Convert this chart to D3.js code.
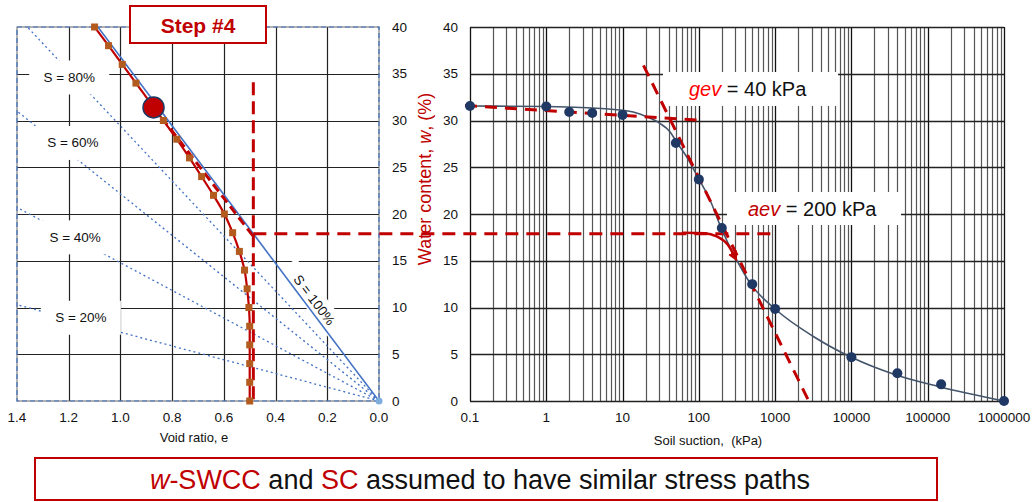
<!DOCTYPE html>
<html>
<head>
<meta charset="utf-8">
<script src="https://cdn.jsdelivr.net/npm/d3@7"></script>
<style>
html,body{margin:0;padding:0;background:#fff;}
svg{display:block;font-family:"Liberation Sans",Arial,sans-serif;}
</style>
</head>
<body>
<svg id="chart" width="1035" height="502"></svg>
<script>
// ---------------- DATA ----------------
// Left chart: shrinkage curve (void ratio e vs water content w)
const scW = [40,38,36,34,32,30,28,26,24,22,20,18,16,14,12,10,8,6,4,2,0];
const scE = [1.10,1.046,0.993,0.940,0.887,0.834,0.782,0.733,0.686,0.640,0.598,0.566,0.540,0.520,0.510,0.503,0.500,0.500,0.500,0.500,0.500];
// saturation lines: endpoints (origin -> far end)
const satLabels = ["S = 100%","S = 80%","S = 60%","S = 40%","S = 20%"];
const satEndE = [1.087, 1.36, 1.40, 1.40, 1.40];
const satEndW = [40, 40, 31.0, 20.7, 10.3];
// label positions for dotted S lines (e, w)
const satLabelE = [null, 1.198, 1.184, 1.175, 1.153];
const satLabelW = [null, 34.6, 27.6, 17.5, 8.9];
// current state point (big red circle)
const statePoint = {e:0.872, w:31.4};
// bilinear SC approximation (dashed)
const scSlopeE = [0.840, 0.486];
const scSlopeW = [30.3, 17.6];
const scVertE = [0.486, 0.486];
const scVertW = [34.1, 0];
const crossW = 17.9;     // horizontal dashed link between charts
const crossEndSuction = 1000;
const voidTicks = [1.4,1.2,1.0,0.8,0.6,0.4,0.2,0.0];
const wTicks = [0,5,10,15,20,25,30,35,40];

// Right chart: w-SWCC
const swccS = [0.1,1,2,4,10,50,100,200,500,1000,10000,40000,150000,1000000];
const swccW = [31.55,31.5,30.9,30.8,30.6,27.6,23.7,18.5,12.5,9.85,4.67,2.96,1.78,0];
const fitS = [0.1,1,10,13.8,20.8,30.7,41.8,51,69.5,99,140,196,312,480,1000,3170,10000,38500,142000,1000000];
const fitW = [31.55,31.5,31.1,30.9,30.4,29.7,28.8,27.7,26.1,23.8,21.5,18.5,15.1,12.5,9.84,6.9,4.67,2.78,1.53,0];
const gevLineS = [0.1,112];
const gevLineW = [31.6,30.0];
const steepS = [18.8,2760];
const steepW = [35.9,0];
const aevS = [60,120,171,240,296];
const aevW = [18.0,17.95,17.6,16.7,15.4];
const suctionTicks = [0.1,1,10,100,1000,10000,100000,1000000];
const suctionTickLabels = ["0.1","1","10","100","1000","10000","100000","1000000"];

// ---------------- DRAW ----------------
const svg = d3.select("#chart");
const RED = "#C00000", BLUE = "#4472C4", NAVY = "#1F3864";

const xL = d3.scaleLinear().domain([1.4,0]).range([17,379]);
const yL = d3.scaleLinear().domain([0,40]).range([401,27]);
const xR = d3.scaleLog().domain([0.1,1e6]).range([470,1004]);
const yR = d3.scaleLinear().domain([0,40]).range([401,27]);

const defs = svg.append("defs");
defs.append("clipPath").attr("id","clipL").append("rect")
  .attr("x",17).attr("y",27).attr("width",362).attr("height",374);
defs.append("clipPath").attr("id","clipR").append("rect")
  .attr("x",455).attr("y",27).attr("width",549).attr("height",378);
defs.append("marker").attr("id","arrow").attr("viewBox","0 0 10 10")
  .attr("refX",5).attr("refY",5).attr("markerWidth",4).attr("markerHeight",4)
  .attr("orient","auto").append("path").attr("d","M0,0 L10,5 L0,10 z").attr("fill",RED);

// ---- left grid ----
const gL = svg.append("g");
gL.selectAll(".vg").data(voidTicks.slice(1,-1)).enter().append("line")
  .attr("x1",d=>Math.round(xL(d))+0.5).attr("x2",d=>Math.round(xL(d))+0.5)
  .attr("y1",yL(40)).attr("y2",yL(0)).attr("stroke","#222").attr("stroke-width",1.2);
gL.selectAll(".hg").data(wTicks.slice(1,-1)).enter().append("line")
  .attr("x1",xL(1.4)).attr("x2",xL(0))
  .attr("y1",d=>Math.round(yL(d))+0.5).attr("y2",d=>Math.round(yL(d))+0.5)
  .attr("stroke","#222").attr("stroke-width",1.2);
// frame
gL.append("rect").attr("x",xL(1.4)).attr("y",yL(40)).attr("width",xL(0)-xL(1.4)).attr("height",yL(0)-yL(40))
  .attr("fill","none").attr("stroke","#666").attr("stroke-width",1);
gL.append("rect").attr("x",xL(1.4)).attr("y",yL(40)).attr("width",xL(0)-xL(1.4)).attr("height",yL(0)-yL(40))
  .attr("fill","none").attr("stroke",BLUE).attr("stroke-width",1.2).attr("stroke-dasharray","5,3");

// S=100% label box (drawn under lines)
const s100pos = {x:314, y:300};
const s100g = svg.append("g").attr("transform",`translate(${s100pos.x},${s100pos.y}) rotate(53)`);
s100g.append("rect").attr("x",-44).attr("y",-11).attr("width",88).attr("height",22).attr("fill","#fff");

// dotted saturation lines S<100
const clipL = svg.append("g").attr("clip-path","url(#clipL)");
clipL.selectAll(".sat").data(d3.range(1,5)).enter().append("line")
  .attr("x1",xL(0)).attr("y1",yL(0))
  .attr("x2",i=>xL(satEndE[i])).attr("y2",i=>yL(satEndW[i]))
  .attr("stroke",BLUE).attr("stroke-width",1.3).attr("stroke-dasharray","2,3");

// S labels with white boxes
d3.range(1,5).forEach(i=>{
  const cx = xL(satLabelE[i]), cy = yL(satLabelW[i]);
  svg.append("rect").attr("x",cx-40).attr("y",cy-17).attr("width",80).attr("height",34).attr("fill","#fff");
  svg.append("text").attr("x",cx).attr("y",cy).attr("text-anchor","middle").attr("dominant-baseline","central")
    .attr("font-size",13.5).attr("fill","#111").text(satLabels[i]);
});

// S=100% line
clipL.append("line").attr("x1",xL(0)).attr("y1",yL(0)).attr("x2",xL(satEndE[0])).attr("y2",yL(satEndW[0]))
  .attr("stroke",BLUE).attr("stroke-width",1.6);
s100g.append("text").attr("x",0).attr("y",0).attr("text-anchor","middle").attr("dominant-baseline","central")
  .attr("font-size",13.5).attr("fill","#111").text(satLabels[0]);
svg.append("circle").attr("cx",xL(0)).attr("cy",yL(0)).attr("r",3.5).attr("fill","#7FAEDC");

// red dashed bilinear lines (left)
const dashStyle = sel => sel.attr("fill","none").attr("stroke",RED).attr("stroke-width",3).attr("stroke-dasharray","12,8");
clipL.append("line").attr("x1",xL(scSlopeE[0])).attr("y1",yL(scSlopeW[0])).attr("x2",xL(scSlopeE[1])).attr("y2",yL(scSlopeW[1]))
  .call(dashStyle).attr("stroke-dasharray","9,5");
svg.append("line").attr("x1",xL(scVertE[0])).attr("y1",yL(scVertW[0])).attr("x2",xL(scVertE[1])).attr("y2",yL(scVertW[1]))
  .call(dashStyle).attr("stroke-dasharray","13,6");

// SC curve
const scData = scW.map((w,i)=>({e:scE[i], w:w}));
svg.append("path").datum(scData)
  .attr("d",d3.line().x(d=>xL(d.e)).y(d=>yL(d.w)).curve(d3.curveMonotoneY))
  .attr("fill","none").attr("stroke",RED).attr("stroke-width",2.2);
svg.selectAll(".scm").data(scData).enter().append("rect")
  .attr("x",d=>xL(d.e)-3.5).attr("y",d=>yL(d.w)-3.5).attr("width",7).attr("height",7)
  .attr("fill","#B35A1F");
svg.append("circle").attr("cx",xL(statePoint.e)).attr("cy",yL(statePoint.w)).attr("r",10.5)
  .attr("fill",RED).attr("stroke",NAVY).attr("stroke-width",1.5);

// left axes labels
svg.selectAll(".xlt").data(voidTicks).enter().append("text")
  .attr("x",d=>xL(d)).attr("y",422).attr("text-anchor","middle").attr("font-size",13.5).attr("fill","#111")
  .text(d=>d3.format(".1f")(d));
svg.append("text").attr("x",194).attr("y",442).attr("text-anchor","middle").attr("font-size",13).attr("fill","#111").text("Void ratio, e");
svg.selectAll(".ylt").data(wTicks).enter().append("text")
  .attr("x",392).attr("y",d=>yL(d)).attr("dominant-baseline","central").attr("font-size",13.5).attr("fill","#111")
  .text(d=>d);

// ---- right grid ----
const gR = svg.append("g");
const minorS = [];
for (let k=-1;k<6;k++) for (let m=2;m<=9;m++) minorS.push(m*Math.pow(10,k));
gR.selectAll(".mg").data(minorS).enter().append("line")
  .attr("x1",d=>Math.round(xR(d))+0.5).attr("x2",d=>Math.round(xR(d))+0.5)
  .attr("y1",yR(40)).attr("y2",yR(0)).attr("stroke","#555").attr("stroke-width",1.2);
gR.selectAll(".Mg").data(suctionTicks).enter().append("line")
  .attr("x1",d=>Math.round(xR(d))+0.5).attr("x2",d=>Math.round(xR(d))+0.5)
  .attr("y1",yR(40)).attr("y2",yR(0)).attr("stroke","#111").attr("stroke-width",1.3);
gR.selectAll(".hg").data(wTicks).enter().append("line")
  .attr("x1",xR(0.1)).attr("x2",xR(1e6))
  .attr("y1",d=>Math.round(yR(d))+0.5).attr("y2",d=>Math.round(yR(d))+0.5)
  .attr("stroke","#222").attr("stroke-width",1.3);

// annotation boxes
svg.append("rect").attr("x",663).attr("y",72).attr("width",175).attr("height",34).attr("fill","#fff");
svg.append("rect").attr("x",727).attr("y",192).attr("width",174).attr("height",33).attr("fill","#fff");
const gevT = svg.append("text").attr("x",689).attr("y",96).attr("font-size",20).attr("fill","#111");
gevT.append("tspan").attr("font-style","italic").attr("fill","#FF0000").text("gev");
gevT.append("tspan").text(" = 40 kPa");
const aevT = svg.append("text").attr("x",748).attr("y",216).attr("font-size",20).attr("fill","#111");
aevT.append("tspan").attr("font-style","italic").attr("fill",RED).text("aev");
aevT.append("tspan").text(" = 200 kPa");

// cross-chart horizontal dashed line
svg.append("line").attr("x1",xL(scVertE[0])).attr("y1",yL(crossW)).attr("x2",xR(crossEndSuction)).attr("y2",yR(crossW))
  .call(dashStyle).attr("stroke-dasharray","13,8");

const clipR = svg.append("g").attr("clip-path","url(#clipR)");
// fitted curve
const fitData = fitS.map((s,i)=>({s:s,w:fitW[i]}));
clipR.append("path").datum(fitData)
  .attr("d",d3.line().x(d=>xR(d.s)).y(d=>yR(d.w)).curve(d3.curveMonotoneX))
  .attr("fill","none").attr("stroke","#44546A").attr("stroke-width",1.6);
// red dashed gev lines
clipR.append("line").attr("x1",xR(gevLineS[0])-5).attr("y1",yR(gevLineW[0])).attr("x2",xR(gevLineS[1])).attr("y2",yR(gevLineW[1]))
  .call(dashStyle);
clipR.append("line").attr("x1",xR(steepS[0])).attr("y1",yR(steepW[0])).attr("x2",xR(steepS[1])).attr("y2",yR(steepW[1]))
  .call(dashStyle);
// aev solid curve with arrow
clipR.append("path").datum(aevS.map((s,i)=>({s:s,w:aevW[i]})))
  .attr("d",d3.line().x(d=>xR(d.s)).y(d=>yR(d.w)).curve(d3.curveMonotoneX))
  .attr("fill","none").attr("stroke",RED).attr("stroke-width",2.5).attr("marker-end","url(#arrow)");
// data points
svg.selectAll(".pt").data(swccS.map((s,i)=>({s:s,w:swccW[i]}))).enter().append("circle")
  .attr("cx",d=>xR(d.s)).attr("cy",d=>yR(d.w)).attr("r",5).attr("fill",NAVY);

// right axes labels
svg.selectAll(".xrt").data(suctionTicks).enter().append("text")
  .attr("x",d=>xR(d)).attr("y",422).attr("text-anchor","middle").attr("font-size",13.5).attr("fill","#111")
  .text((d,i)=>suctionTickLabels[i]);
svg.append("text").attr("x",708).attr("y",445).attr("text-anchor","middle").attr("font-size",13).attr("fill","#111")
  .attr("xml:space","preserve").text("Soil suction,  (kPa)");
svg.selectAll(".yrt").data(wTicks).enter().append("text")
  .attr("x",458).attr("y",d=>yR(d)).attr("text-anchor","end").attr("dominant-baseline","central").attr("font-size",13.5).attr("fill","#111")
  .text(d=>d);
const yt = svg.append("text").attr("transform","translate(425,179) rotate(-90)").attr("text-anchor","middle")
  .attr("dominant-baseline","central").attr("font-size",18).attr("fill",RED);
yt.append("tspan").text("Water content, ");
yt.append("tspan").attr("font-style","italic").text("w");
yt.append("tspan").text(", (%)");

// Step box
svg.append("rect").attr("x",130).attr("y",6).attr("width",136).attr("height",37)
  .attr("fill","#fff").attr("stroke",RED).attr("stroke-width",2);
svg.append("text").attr("x",198).attr("y",33).attr("text-anchor","middle").attr("font-size",21)
  .attr("font-weight","bold").attr("fill",RED).text("Step #4");

// caption box
svg.append("rect").attr("x",35).attr("y",458).attr("width",902).attr("height",42)
  .attr("fill","#fff").attr("stroke",RED).attr("stroke-width",2);
const cap = svg.append("text").attr("x",480).attr("y",489).attr("text-anchor","middle").attr("font-size",27).attr("fill","#111");
cap.append("tspan").attr("font-style","italic").attr("fill",RED).text("w");
cap.append("tspan").attr("fill",RED).text("-SWCC");
cap.append("tspan").text(" and ");
cap.append("tspan").attr("fill",RED).text("SC");
cap.append("tspan").text(" assumed to have similar stress paths");
</script>
</body>
</html>
